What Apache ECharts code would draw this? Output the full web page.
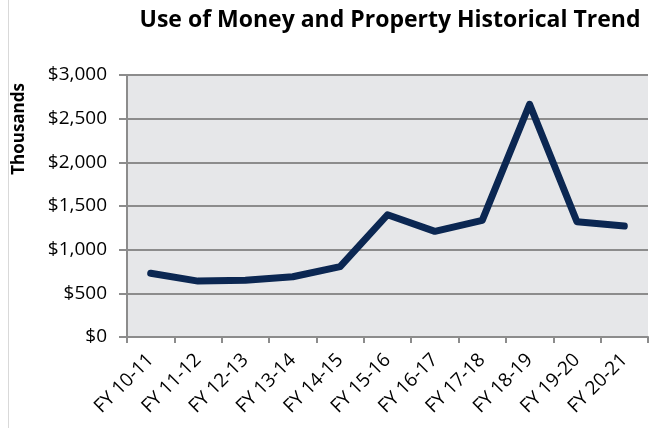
<!DOCTYPE html>
<html>
<head>
<meta charset="utf-8">
<script src="https://cdn.jsdelivr.net/npm/echarts@6/dist/echarts.min.js"></script>
<style>
  html, body { margin: 0; padding: 0; background: #fff; }
  #chart { width: 649px; height: 428px; }
</style>
</head>
<body>
<div id="chart"></div>
<script>
  // fiscal years on the x axis
  var years = ['FY 10-11', 'FY 11-12', 'FY 12-13', 'FY 13-14', 'FY 14-15', 'FY 15-16',
               'FY 16-17', 'FY 17-18', 'FY 18-19', 'FY 19-20', 'FY 20-21'];
  // use of money and property, thousands of dollars
  var amounts = [730, 640, 650, 690, 805, 1400, 1210, 1335, 2665, 1320, 1270];

  var chart = echarts.init(document.getElementById('chart'));
  var font = '"Open Sans", sans-serif';

  chart.setOption({
    animation: false,
    title: {
      text: 'Use of Money and Property Historical Trend',
      left: 385,
      top: 4,
      textAlign: 'center',
      textStyle: { fontFamily: font, fontSize: 23, fontWeight: 'bold', color: '#000' }
    },
    // thin frame edge on the left of the chart object
    graphic: [{
      type: 'line',
      shape: { x1: 8.5, y1: 0, x2: 8.5, y2: 428 },
      style: { stroke: '#d9d9d9', lineWidth: 1 }
    }, {
      type: 'text',
      left: 11,
      top: 83,
      style: {
        text: 'Thousands',
        font: 'bold 17px "Open Sans", sans-serif',
        fill: '#000'
      },
      rotation: Math.PI / 2,
      originX: 0,
      originY: 0
    }],
    grid: {
      left: 127,
      right: 1,
      top: 75,
      bottom: 91,
      show: true,
      backgroundColor: '#e6e7e9',
      borderWidth: 0
    },
    xAxis: {
      type: 'category',
      data: years,
      boundaryGap: true,
      axisLine: { lineStyle: { color: '#8c8c8c', width: 2 } },
      axisTick: { show: true, length: 6, lineStyle: { color: '#8c8c8c', width: 2 } },
      axisLabel: {
        rotate: 45,
        interval: 0,
        fontFamily: font,
        fontSize: 19,
        color: '#000',
        margin: 20
      }
    },
    yAxis: {
      type: 'value',
      min: 0,
      max: 3000,
      interval: 500,
      axisLine: { show: true, lineStyle: { color: '#8c8c8c', width: 2 } },
      axisTick: { show: true, length: 8, lineStyle: { color: '#8c8c8c', width: 2 } },
      splitLine: { lineStyle: { color: '#8c8c8c', width: 2 } },
      axisLabel: {
        fontFamily: font,
        fontSize: 19,
        color: '#000',
        margin: 20,
        formatter: function (v) { return '$' + v.toLocaleString('en-US'); }
      }
    },
    series: [{
      type: 'line',
      data: amounts,
      symbol: 'none',
      lineStyle: { color: '#0b2752', width: 7, cap: 'round', join: 'round' }
    }]
  });
</script>
</body>
</html>
